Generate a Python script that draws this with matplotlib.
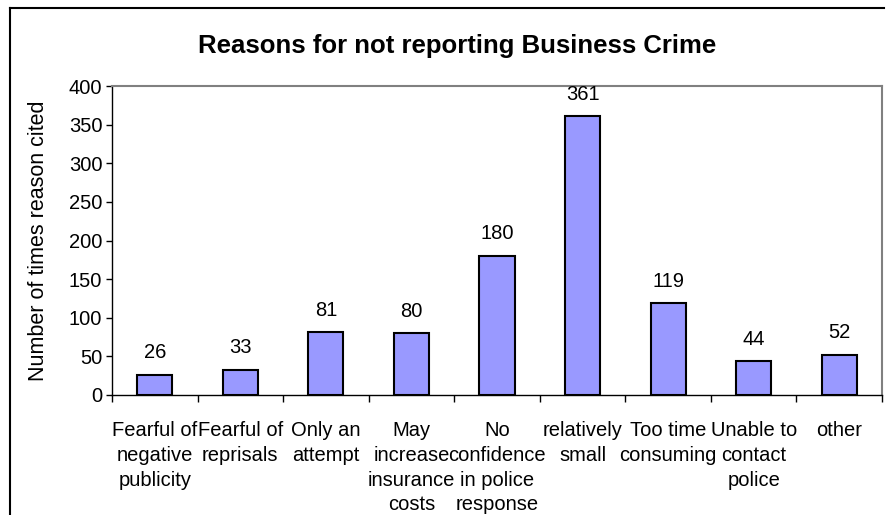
import matplotlib.pyplot as plt
from matplotlib.lines import Line2D
import numpy as np

# Data
reasons = ['Fearful of\nnegative\npublicity', 'Fearful of\nreprisals', 'Only an\nattempt',
           'May\nincrease\ninsurance\ncosts', 'No\nconfidence\nin police\nresponse',
           'relatively\nsmall', 'Too time\nconsuming', 'Unable to\ncontact\npolice', 'other']
times_cited = [26, 33, 81, 80, 180, 361, 119, 44, 52]
y_ticks = [0, 50, 100, 150, 200, 250, 300, 350, 400]

plt.rcParams['font.family'] = ['Liberation Sans', 'DejaVu Sans']

fig = plt.figure(figsize=(8.87, 5.15), dpi=100)
fig.patch.set_facecolor('white')
ax = fig.add_axes([112/887, 1 - 395/515, (882 - 112)/887, (395 - 86)/515])

x = np.arange(len(times_cited))
bars = ax.bar(x, times_cited, width=0.41, color='#9999FF', edgecolor='black', linewidth=1.5, zorder=2)

# value labels above bars
for xi, v in zip(x, times_cited):
    ax.annotate(str(v), (xi, v), xytext=(0, 9), textcoords='offset points',
                ha='center', va='bottom', fontsize=14.5)

ax.set_xlim(-0.5, len(times_cited) - 0.5)
ax.set_ylim(0, 400)
ax.set_yticks(y_ticks)
ax.tick_params(axis='y', labelsize=14.5, length=4, width=1, direction='out', pad=3)

# category labels centred, tick marks at category boundaries
ax.set_xticks(x)
ax.set_xticklabels(reasons, fontsize=14.5, linespacing=1.38)
ax.tick_params(axis='x', which='major', length=0, pad=19)
ax.set_xticks(np.arange(-0.5, len(times_cited)), minor=True)
ax.tick_params(axis='x', which='minor', length=5, width=1, direction='out')

ax.set_ylabel('Number of times reason cited', fontsize=15.5, labelpad=14)

for side in ['top', 'right']:
    ax.spines[side].set_color('#808080')
    ax.spines[side].set_linewidth(1.5)
for side in ['left', 'bottom']:
    ax.spines[side].set_color('black')
    ax.spines[side].set_linewidth(1)

fig.text(457/887, 1 - 46/515, 'Reasons for not reporting Business Crime',
         ha='center', va='center', fontsize=18.5, fontweight='bold')

# chart frame (only top and left edges visible)
fig.add_artist(Line2D([10/887, 10/887], [0, 1 - 8/515], transform=fig.transFigure, color='black', lw=1.5))
fig.add_artist(Line2D([10/887, 884/887], [1 - 8/515, 1 - 8/515], transform=fig.transFigure, color='black', lw=1.5))

fig.savefig('out.png', dpi=100, facecolor='white')
